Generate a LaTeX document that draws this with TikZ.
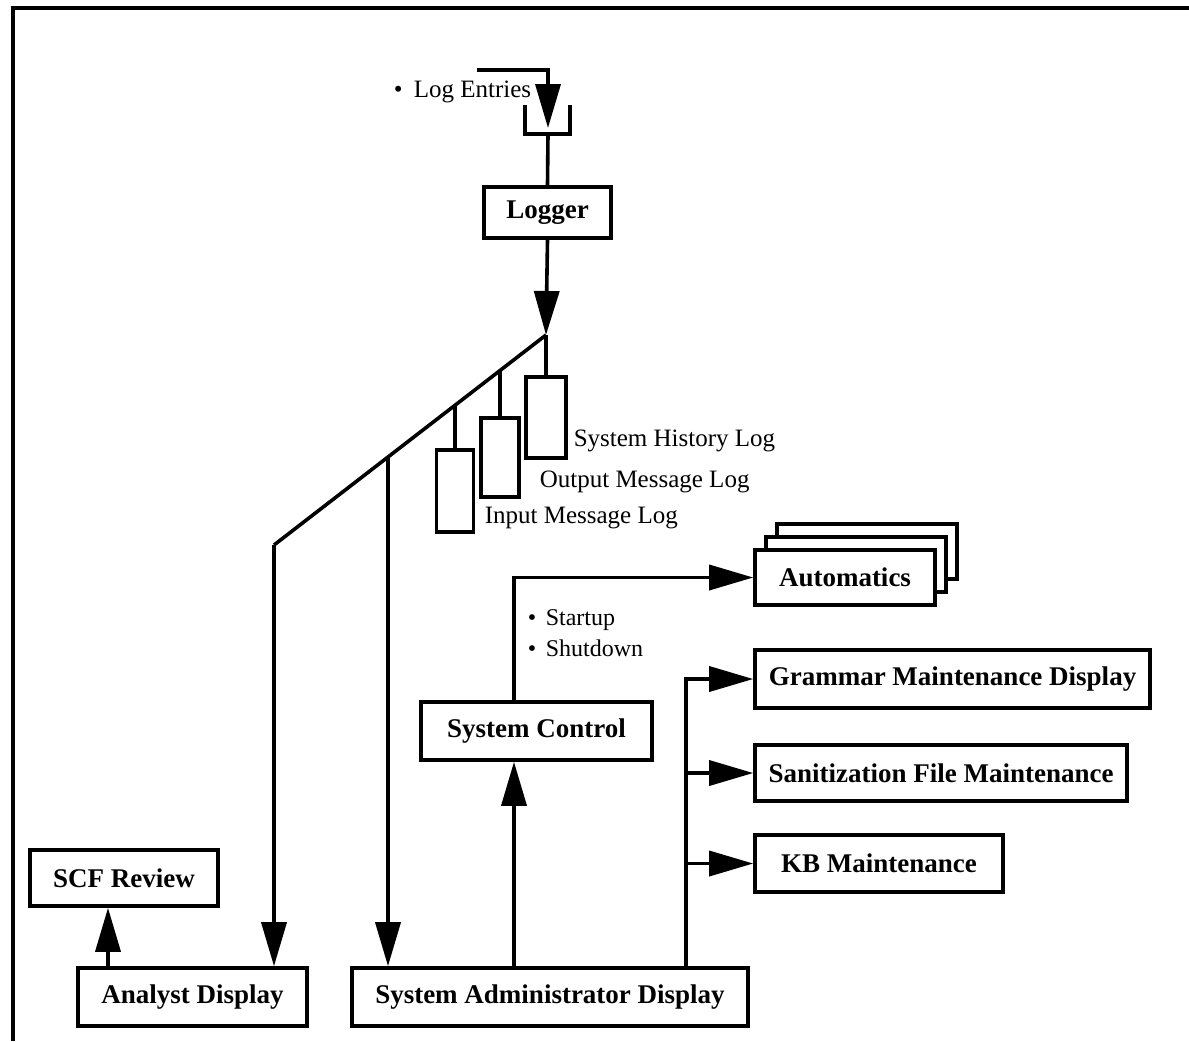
\documentclass[tikz,border=0pt]{standalone}
\usepackage{fontspec}
\setmainfont{Liberation Serif}
\usetikzlibrary{arrows.meta,calc}
\begin{document}
\begin{tikzpicture}[x=0.5pt,y=-0.5pt,
  line width=1.8pt,
  box/.style={draw,line width=1.8pt,fill=white,inner sep=0pt,
    font=\fontsize{13.5}{16}\selectfont\bfseries},
  logbox/.style={draw,line width=1.8pt,fill=white,inner sep=0pt},
  lbl/.style={inner sep=0pt,anchor=west,font=\fontsize{12.5}{15}\selectfont},
  arr/.style={-{Triangle[length=22pt,width=12.5pt]}}]
\useasboundingbox (0,0) rectangle (1189,1041);

% open frame: top and left edges
\draw (13,1041) -- (13,8) -- (1189,8);

% incoming log entries and the queue tray
\coordinate (inlet) at (477,70);
\coordinate (traybot) at (548,134);
\node[lbl] (entries) at (392,92) {\textbullet\hspace{0.45em}Log Entries};
\draw[arr] (inlet) -- (548,70) -- (548,128);
\draw (525,105) -- (525,134) -- (570,134) -- (570,105);

% logger
\node[box,minimum width=63.5pt,minimum height=25.5pt] (logger) at (547.5,212.5) {Logger};
\draw (traybot) -- (logger.north);

% distribution bus
\coordinate (apex) at (546,335);
\coordinate (bend) at (274,545);
\coordinate (j1) at (500,370.5);
\coordinate (j2) at (455,405.3);
\coordinate (j3) at (388,457);
\draw[arr] (logger.south) -- (apex);

% log files
\node[logbox,minimum width=20pt,minimum height=40.5pt] (hist) at (546,417.5) {};
\node[logbox,minimum width=19pt,minimum height=39.5pt] (outlog) at (500,457.5) {};
\node[logbox,minimum width=18.5pt,minimum height=41pt] (inlog) at (455,491) {};
\draw (apex) -- (hist.north);
\draw (j1) -- (outlog.north);
\draw (j2) -- (inlog.north);
\node[lbl] at (572,441) {System History Log};
\node[lbl] at (538,482) {Output Message Log};
\node[lbl] at (483,518) {Input Message Log};

% displays
\node[box,minimum width=114.5pt,minimum height=29pt] (analyst) at (192.5,997) {Analyst Display};
\node[box,minimum width=198pt,minimum height=29pt] (sysadm) at (550,997) {System Administrator Display};
\node[box,minimum width=94pt,minimum height=28pt] (scf) at (124,878) {SCF Review};

\draw[line join=round] (apex) -- (bend);
\draw[arr] (bend) -- (bend |- analyst.north);
\draw[arr] (j3) -- (j3 |- sysadm.north);
\draw[arr] (scf.south -| 108,0) ++(0,62) -- (scf.south -| 108,0);

% system control and automatics
\node[box,minimum width=115.5pt,minimum height=29pt] (sysctl) at (536.5,731) {System Control};
\coordinate (ctl) at (514,731);
\draw[arr] (ctl |- sysadm.north) -- (ctl |- sysctl.south);

\node[box,minimum width=90pt,minimum height=27.5pt] (auto3) at (867,551.5) {};
\node[box,minimum width=90pt,minimum height=27.5pt] (auto2) at (856,564.5) {};
\node[box,minimum width=90pt,minimum height=27.5pt] (auto) at (845,577.5) {Automatics};
\draw[arr] (ctl |- sysctl.north) |- (auto.west);
\node[lbl,font=\fontsize{12}{14}\selectfont] at (526,620) {\textbullet\hspace{0.4em}Startup};
\node[lbl,font=\fontsize{12}{14}\selectfont] at (526,648) {\textbullet\hspace{0.4em}Shutdown};

% maintenance tools
\node[box,minimum width=197.5pt,minimum height=29pt] (gram) at (952.5,679) {Grammar Maintenance Display};
\node[box,minimum width=186pt,minimum height=28pt] (sanit) at (941,773) {Sanitization File Maintenance};
\node[box,minimum width=124pt,minimum height=28.5pt] (kb) at (879,863.5) {KB Maintenance};
\coordinate (mbus) at (686,863.5);
\draw[arr] (mbus |- sysadm.north) |- (gram.west);
\draw[arr] (mbus |- sanit.west) -- (sanit.west);
\draw[arr] (mbus |- kb.west) -- (kb.west);
\end{tikzpicture}
\end{document}
